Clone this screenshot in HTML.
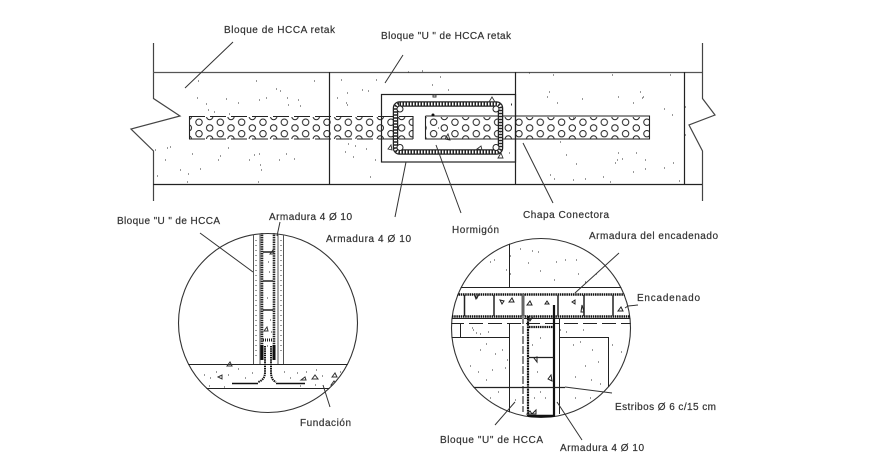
<!DOCTYPE html>
<html><head><meta charset="utf-8"><style>
html,body{margin:0;padding:0;background:#fff;width:870px;height:472px;overflow:hidden}
svg{display:block}
text{font-family:"Liberation Sans",sans-serif;font-size:10px;fill:#333;stroke:#333;stroke-width:.2}
</style></head><body>
<svg width="870" height="472" viewBox="0 0 870 472">
<defs>
<pattern id="hex" patternUnits="userSpaceOnUse" x="199" y="116.5" width="21.33" height="22.5">
<g fill="none" stroke="#222" stroke-width="1">
<circle cx="0" cy="5.7" r="3.2"/><circle cx="21.33" cy="5.7" r="3.2"/>
<circle cx="0" cy="17.2" r="3.2"/><circle cx="21.33" cy="17.2" r="3.2"/>
<circle cx="10.67" cy="0" r="3.2"/><circle cx="10.67" cy="11.4" r="3.2"/><circle cx="10.67" cy="22.5" r="3.2"/>
</g></pattern>
<clipPath id="c1"><circle cx="268" cy="323" r="90"/></clipPath>
<clipPath id="c2"><circle cx="541" cy="328" r="90"/></clipPath>
</defs>
<rect width="870" height="472" fill="#fff"/>

<!-- top plan -->
<g fill="none" stroke="#444" stroke-width="1.2">
<path d="M153.5 43V98.5L180 116L131 129L153.5 151V201"/>
<path d="M702.5 43V98.5L715 115L689 125L702.5 151V201"/>
<path d="M153 72.5H702" stroke="#555"/>
<path d="M153 184.5H702" stroke="#222"/>
<path d="M329.5 72V184M515.5 72V184M684.5 72V184" stroke="#222"/>
<rect x="381.5" y="94.5" width="134" height="67.5" stroke="#222"/>
</g>
<rect x="189" y="117" width="224" height="22" fill="url(#hex)"/>
<rect x="425" y="117" width="224" height="22" fill="url(#hex)"/>
<g fill="none" stroke="#222" stroke-width="1.100">
<path d="M189 116.5H413M189 139H413" stroke-dasharray="16 5"/>
<path d="M189.5 116V139M413 116V139M425.5 116V139H649.5V116H425.5" />
</g>
<rect x="395.5" y="104" width="105" height="48" rx="4" fill="none" stroke="#222" stroke-width="5.5"/>
<rect x="395.5" y="104" width="105" height="48" rx="4" fill="none" stroke="#fff" stroke-width="3"/>
<rect x="395.5" y="104" width="105" height="48" rx="4" fill="none" stroke="#222" stroke-width="3" stroke-dasharray="1.500 1.500"/>
<g fill="#fff" stroke="#222" stroke-width="1">
<circle cx="400" cy="109" r="3"/><circle cx="496" cy="109" r="3"/><circle cx="400" cy="147.500" r="3"/><circle cx="496" cy="147.500" r="3"/>
</g>
<g fill="none" stroke="#333" stroke-width=".9">
<path d="M489 102l3-5 3 5zM392 150l-4 -1 3-4zM477 149l4-3 1 4zM498 158l3-5 2 5zM445 139l3-5 2 6zM433 95h3v2h-3z"/>
</g>
<circle cx="433" cy="115" r="1.500" fill="#111"/>

<!-- leaders top -->
<g fill="none" stroke="#333" stroke-width="1">
<path d="M233 42L185 88M403 55L385 83M395 217L406 162M461 213L436 145M553 203L523 143"/>
</g>

<!-- dots top -->
<path d="M198 81h1M256 81h1M314 81h1M276 89h1M280 91h1M197 98h1M266 98h1M206 104h1M226 99h1M287 98h1M288 105h1M238 103h1M259 100h1M208 110h1M214 112h1M300 106h1M298 100h1M229 114h1M155 150h1M167 148h1M170 147h1M228 148h1M259 154h1M254 155h1M286 154h1M192 154h1M220 156h1M294 159h1M180 170h1M188 174h1M200 169h1M218 160h1M249 160h1M279 160h1M260 165h1M261 170h1M165 160h1M157 176h1M187 182h1M258 182h1M341 80h1M376 80h1M362 90h1M368 91h1M347 93h1M337 98h1M346 103h1M347 105h1M348 144h1M345 152h1M355 146h1M366 149h1M353 157h1M375 160h1M370 177h1M408 72h1M422 71h1M440 77h1M432 85h1M448 90h1M529 73h1M553 75h1M612 75h1M670 75h1M549 92h1M547 97h1M557 103h1M582 99h1M618 97h1M633 103h1M640 92h1M643 97h1M642 98h1M672 115h1M664 109h1M573 118h1M566 155h1M576 164h1M618 153h1M617 160h1M615 163h1M622 159h1M636 153h1M645 160h1M645 169h1M633 172h1M664 168h1M673 163h1M550 175h1M554 179h1M573 180h1M585 179h1M603 177h1M610 182h1M679 181h1M541 180h1M685 107h1M685 135h1M511 104h1M511 105h1M509 153h1M560 142h1M500 132h1M454 150h1M438 128h1" stroke="#333" fill="none" stroke-width="1"/>

<!-- circle 1 -->
<circle cx="268" cy="323" r="89.500" fill="none" stroke="#333" stroke-width="1.100"/>
<g clip-path="url(#c1)">
<g fill="none" stroke="#333" stroke-width="1">
<path d="M253.500 230V364M260 230V364M278 230V364M283.500 230V364" stroke="#555"/>
<path d="M178 364.500H358M178 388.500H358" stroke="#222"/>
<path d="M263 252H273M263 281H273M263 310H273" stroke="#222" stroke-width="1.500"/>
<path d="M263 340H273" stroke="#222" stroke-width="3" stroke-dasharray="1 1"/>
<path d="M262 230V345M274 230V345" stroke="#222" stroke-width="2.600" stroke-dasharray="1.500 .8"/>
<path d="M262 345V360M274 345V360" stroke="#111" stroke-width="3"/>
<path d="M265 346V372Q265 380 258 382" stroke="#111" stroke-width="2" stroke-dasharray="1.500 .7"/>
<path d="M271 346V372Q271 380 276 382" stroke="#111" stroke-width="2" stroke-dasharray="1.500 .7"/>
<path d="M232 383.500H258M276 383.500H305" stroke="#111" stroke-width="1.600"/>
<path d="M256 240v118M281 240v115" stroke="#777" stroke-width="1.500" stroke-dasharray="1 4"/>
<path d="M227 366l3-4 2 4zM218 377l4-2 0 4zM312 379l3-4 3 4zM332 377l3-4 2 4zM301 380l4-3 1 3zM331 385l3-4 3 4zM264 331l3-4 1 4zM270 254l3-4 1 4z"/>
</g>
<path d="M204 375h1M210 378h1M216 372h1M228 375h1M238 369h1M245 378h1M252 373h1M284 372h1M290 378h1M297 373h1M306 372h1M316 370h1M322 376h1M340 372h1M345 376h1M209 386h1M224 387h1M300 386h1M315 385h1M268 262h1M269 272h1M267 298h1M270 320h1M271 332h1M267 346h1" stroke="#333" fill="none"/>
</g>
<g fill="none" stroke="#333" stroke-width="1">
<path d="M200 233L253 272M280 222L277 236M330 407L323 385"/>
</g>

<!-- circle 2 -->
<circle cx="541" cy="328" r="89.500" fill="none" stroke="#333" stroke-width="1.100"/>
<g clip-path="url(#c2)">
<g fill="none" stroke="#222" stroke-width="1">
<path d="M509.500 240V287M509.500 323V417M460.500 323V337"/>
<path d="M450 287.500H640M450 318.500H640" />
<path d="M450 323.500H640" stroke-dasharray="14 5"/>
<path d="M450 337.500H509M559 337.500H608" />
<path d="M608.500 337V387M559.500 318V414"/>
<path d="M452 294.500H630M452 316.500H630" stroke="#111" stroke-width="2.600" stroke-dasharray="1.500 .7"/>
<path d="M464.500 295V316M494 295V316M558 295V316M584 295V316M613 295V316" stroke-width="1.500"/>
<path d="M523 294V316" stroke="#666" stroke-width="3"/>
<path d="M523 316V412" stroke="#888" stroke-width="2" stroke-dasharray="8 2"/>
<path d="M528 316V416" stroke="#111" stroke-width="2.200" stroke-dasharray="2 .6"/>
<path d="M554 305V416" stroke="#111" stroke-width="2.200"/>
<path d="M529 327H554" stroke="#111" stroke-width="2.200" stroke-dasharray="1.500 .7"/>
<path d="M529 357.500H554" stroke-width="1.200"/>
<path d="M472 387.500H565" stroke-width="1.300"/>
<path d="M528 416H555" stroke="#111" stroke-width="2.500"/>
<path d="M474 294l3 4 2-4-3 5zM500 300l4 1-2 3zM509 302l3-4 2 4zM545 304l2-3 2 3zM572 302l3 2 0-4zM581 312l1-7 2 7zM618 311l3-4 2 4zM534 358l3-1 0 5zM548 379l3-4 1 6zM527 414l3-3 2 3zM532 414l4-4 0 4zM527 305l3-4 2 4zM528 320l4-2-2 3z"/>
</g>
<path d="M520 249h1M532 251h1M538 252h1M510 256h1M494 260h1M490 262h1M506 270h1M510 274h1M528 263h1M540 271h1M556 262h1M565 260h1M576 260h1M578 274h1M554 280h1M596 274h1M585 282h1M473 330h1M476 333h1M472 328h1M480 334h1M488 332h1M486 344h1M480 350h1M495 354h1M502 350h1M507 360h1M470 366h1M478 372h1M492 370h1M505 368h1M486 380h1M560 330h1M566 332h1M583 330h1M573 345h1M580 342h1M592 350h1M585 366h1M598 362h1M575 377h1M591 380h1M600 384h1M612 345h1M621 352h1M617 376h1M610 392h1M590 398h1M575 398h1M490 398h1M498 392h1M478 395h1M500 408h1M515 400h1M540 392h1M545 398h1M532 345h1M540 338h1M537 372h1M534 398h1" stroke="#333" fill="none"/>
</g>
<g fill="none" stroke="#333" stroke-width="1">
<path d="M619 253L575 293M625 308L628 306L638 305M565 387L612 393M495 425L515 402M582 440L557 402"/>
</g>

<!-- labels -->
<text x="224" y="33" textLength="111" lengthAdjust="spacing">Bloque de HCCA retak</text>
<text x="381" y="39" textLength="130" lengthAdjust="spacing">Bloque "U " de HCCA retak</text>
<text x="523" y="218" textLength="86" lengthAdjust="spacing">Chapa Conectora</text>
<text x="452" y="233" textLength="47" lengthAdjust="spacing">Hormigón</text>
<text x="269" y="220" textLength="83" lengthAdjust="spacing">Armadura 4 Ø 10</text>
<text x="326" y="242" textLength="85" lengthAdjust="spacing">Armadura 4 Ø 10</text>
<text x="117" y="224" textLength="103" lengthAdjust="spacing">Bloque "U " de HCCA</text>
<text x="300" y="426" textLength="51" lengthAdjust="spacing">Fundación</text>
<text x="589" y="239" textLength="129" lengthAdjust="spacing">Armadura del encadenado</text>
<text x="637" y="301" textLength="63" lengthAdjust="spacing">Encadenado</text>
<text x="615" y="410" textLength="101" lengthAdjust="spacing">Estribos Ø 6 c/15 cm</text>
<text x="440" y="443" textLength="103" lengthAdjust="spacing">Bloque "U" de HCCA</text>
<text x="560" y="451" textLength="84" lengthAdjust="spacing">Armadura 4 Ø 10</text>
</svg>
</body></html>
